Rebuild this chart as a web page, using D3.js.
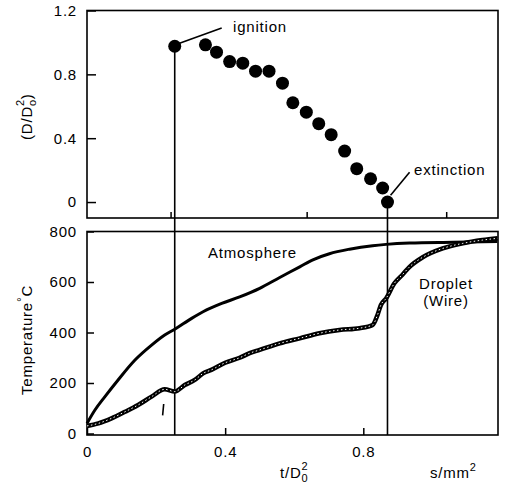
<!DOCTYPE html>
<html>
<head>
<meta charset="utf-8">
<script src="https://cdn.jsdelivr.net/npm/d3@7"></script>
<style>
  body { margin: 0; background: #fff; }
  svg text { font-family: "Liberation Sans", Arial, sans-serif; font-size: 15px; letter-spacing: 0.8px; fill: #000; }
</style>
</head>
<body>
<svg width="505" height="490"></svg>
<script>
// top panel: normalised diameter squared vs t/D0^2
var sizeTime = [0.254, 0.343, 0.375, 0.413, 0.451, 0.488, 0.527, 0.566, 0.596, 0.635, 0.671, 0.707, 0.746, 0.781, 0.821, 0.856, 0.870];
var sizeRatio = [0.976, 0.985, 0.939, 0.880, 0.870, 0.820, 0.820, 0.745, 0.622, 0.563, 0.491, 0.422, 0.319, 0.209, 0.146, 0.088, 0.0];

// bottom panel: temperatures
var atmTime = [0, 0.023, 0.052, 0.09, 0.139, 0.187, 0.225, 0.254, 0.303, 0.336, 0.39, 0.442, 0.50, 0.558, 0.616, 0.654, 0.702, 0.76, 0.827, 0.866, 0.934, 1.06, 1.188];
var atmTemp = [40, 93, 146, 212, 291, 350, 390, 413, 456, 482, 515, 541, 575, 618, 660, 688, 712, 730, 744, 749, 754, 757, 760];

var dropTime = [0, 0.033, 0.071, 0.110, 0.148, 0.187, 0.225, 0.254, 0.283, 0.312, 0.336, 0.36, 0.40, 0.442, 0.471, 0.50, 0.558, 0.616, 0.673, 0.731, 0.789, 0.827, 0.841, 0.851, 0.866, 0.89, 0.914, 0.934, 0.972, 1.03, 1.088, 1.145, 1.189];
var dropTemp = [30, 40, 60, 86, 113, 146, 175, 166, 192, 212, 238, 252, 280, 300, 318, 331, 357, 377, 397, 410, 417, 430, 469, 509, 535, 595, 630, 660, 698, 733, 753, 766, 773];

var ignitionT = 0.254, extinctionT = 0.870;
var topYTicks = [0, 0.4, 0.8, 1.2];
var topXTicks = [0.242, 0.636, 1.04];
var botXTicks = [0, 0.4, 0.8];
var botYTicks = [0, 200, 400, 600, 800];

var svg = d3.select("svg");

var x = d3.scaleLinear().domain([0, 1.19]).range([87, 498]);
var yD = d3.scaleLinear().domain([-0.1, 1.2]).range([218, 10.5]);
var yT = d3.scaleLinear().domain([0, 800]).range([433.5, 231.5]);
var botFrame = 435;

var fmt = function(d) { return d === 0 ? "0" : d3.format(".1f")(d); };

// frames
svg.append("rect").attr("x", x(0)).attr("y", yD(1.2))
  .attr("width", x(1.19) - x(0)).attr("height", yD(-0.1) - yD(1.2))
  .attr("fill", "none").attr("stroke", "#000").attr("stroke-width", 1.6);
svg.append("rect").attr("x", x(0)).attr("y", yT(800))
  .attr("width", x(1.19) - x(0)).attr("height", botFrame - yT(800))
  .attr("fill", "none").attr("stroke", "#000").attr("stroke-width", 1.6);

function styleAxis(g) {
  g.select(".domain").remove();
  g.selectAll("line").attr("stroke", "#000").attr("stroke-width", 1.5);
  g.selectAll("text").attr("font-size", null).attr("font-family", null).attr("fill", null);
}

svg.append("g").attr("transform", "translate(" + x(0) + ",0)")
  .call(d3.axisLeft(yD).tickValues(topYTicks).tickSize(-9).tickPadding(10).tickFormat(fmt))
  .call(styleAxis);
svg.append("g").attr("transform", "translate(0," + yD(-0.1) + ")")
  .call(d3.axisBottom(x).tickValues(topXTicks).tickSize(-6).tickFormat(""))
  .call(styleAxis);
svg.append("g").attr("transform", "translate(" + x(0) + ",0)")
  .call(d3.axisLeft(yT).tickValues(botYTicks).tickSize(-7).tickPadding(10))
  .call(styleAxis);
svg.append("g").attr("transform", "translate(0," + botFrame + ")")
  .call(d3.axisBottom(x).tickValues(botXTicks).tickSize(-7).tickPadding(11).tickFormat(fmt))
  .call(styleAxis);

// ignition / extinction verticals
svg.append("line").attr("x1", x(ignitionT)).attr("x2", x(ignitionT))
  .attr("y1", yD(sizeRatio[0])).attr("y2", botFrame)
  .attr("stroke", "#000").attr("stroke-width", 1.6);
svg.append("line").attr("x1", x(extinctionT)).attr("x2", x(extinctionT))
  .attr("y1", yD(0)).attr("y2", botFrame)
  .attr("stroke", "#000").attr("stroke-width", 1.6);

// leaders
svg.append("line").attr("x1", x(0.262)).attr("y1", yD(0.99)).attr("x2", x(0.39)).attr("y2", yD(1.09))
  .attr("stroke", "#000").attr("stroke-width", 1.6);
svg.append("line").attr("x1", x(0.879)).attr("y1", yD(0.042)).attr("x2", x(0.934)).attr("y2", yD(0.186))
  .attr("stroke", "#000").attr("stroke-width", 1.6);

// size points
svg.append("g").selectAll("circle")
  .data(d3.range(sizeTime.length))
  .enter().append("circle")
  .attr("cx", function(i) { return x(sizeTime[i]); })
  .attr("cy", function(i) { return yD(sizeRatio[i]); })
  .attr("r", 6.5)
  .attr("fill", "#000");

// temperature curves
var atm = atmTime.map(function(t, i) { return [t, atmTemp[i]]; });
var drop = dropTime.map(function(t, i) { return [t, dropTemp[i]]; });
var line = d3.line()
  .x(function(d) { return x(d[0]); })
  .y(function(d) { return yT(d[1]); })
  .curve(d3.curveMonotoneX);

svg.append("path").datum(atm).attr("d", line)
  .attr("fill", "none").attr("stroke", "#000").attr("stroke-width", 3);
svg.append("path").datum(drop).attr("d", line)
  .attr("fill", "none").attr("stroke", "#000").attr("stroke-width", 4.5);
svg.append("path").datum(drop).attr("d", line)
  .attr("fill", "none").attr("stroke", "#fff").attr("stroke-width", 1).attr("stroke-dasharray", "1.5,2.5");

// stray mark
svg.append("path").datum([[0.222, 117], [0.219, 72]]).attr("d", d3.line().x(function(d) { return x(d[0]); }).y(function(d) { return yT(d[1]); }))
  .attr("stroke", "#000").attr("stroke-width", 1.6);

// labels
svg.append("text").attr("x", 233).attr("y", 32).text("ignition");
svg.append("text").attr("x", 414).attr("y", 175).text("extinction");
svg.append("text").attr("x", 208).attr("y", 258).text("Atmosphere");
svg.append("text").attr("x", 446).attr("y", 289).attr("text-anchor", "middle").text("Droplet");
svg.append("text").attr("x", 446).attr("y", 306).attr("text-anchor", "middle").text("(Wire)");

// y titles
var t1 = svg.append("text").attr("transform", "translate(32,140) rotate(-90)");
t1.append("tspan").text("(D/D");
t1.append("tspan").attr("font-size", "11px").attr("dy", 4).text("o");
t1.append("tspan").attr("font-size", "11px").attr("dx", -7).attr("dy", -12).text("2");
t1.append("tspan").attr("dy", 8).text(")");

var t2 = svg.append("text").attr("transform", "translate(32,395) rotate(-90)");
t2.append("tspan").text("Temperature");
t2.append("tspan").attr("font-size", "12px").attr("dy", -6).text("°");
t2.append("tspan").attr("dy", 6).text("C");

// x titles
var t3 = svg.append("text").attr("x", 280).attr("y", 478);
t3.append("tspan").text("t/D");
t3.append("tspan").attr("font-size", "11px").attr("dy", 4).text("0");
t3.append("tspan").attr("font-size", "11px").attr("dx", -7).attr("dy", -12).text("2");

var t4 = svg.append("text").attr("x", 430).attr("y", 478);
t4.append("tspan").text("s/mm");
t4.append("tspan").attr("font-size", "11px").attr("dy", -7).text("2");
</script>
</body>
</html>
